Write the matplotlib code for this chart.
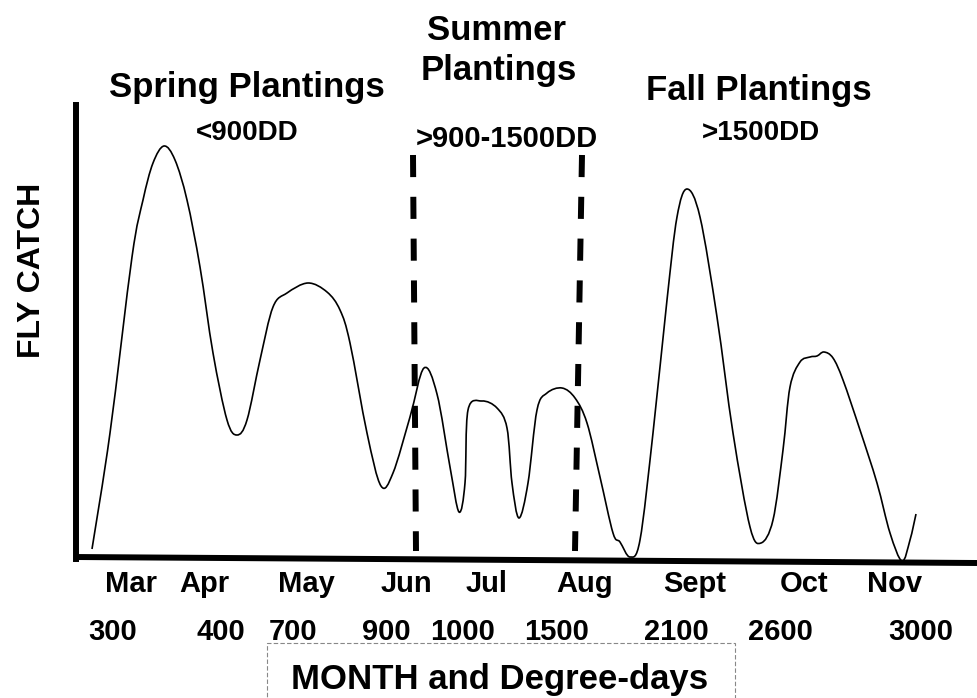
import matplotlib
matplotlib.use("Agg")
import matplotlib.pyplot as plt
from matplotlib.patches import Rectangle, PathPatch
from matplotlib.path import Path

plt.rcParams['font.family'] = ['Liberation Sans', 'DejaVu Sans']

# ---- data (x = season position, y = relative fly catch) ----
season_pos = [16, 34, 56, 67, 77, 88, 99, 111, 124, 137, 151, 161, 171, 184, 197, 211,
              232, 251, 264, 274, 291, 305, 317, 334, 348, 361, 374, 383, 389, 392,
              406, 421, 431, 436, 443, 452, 461, 471, 486, 499, 511, 524, 537, 544,
              554, 564, 577, 591, 601, 611, 624, 641, 657, 674, 685, 697, 707, 714,
              724, 734, 741, 748, 757, 767, 784, 801, 814, 826, 834, 840]
fly_catch = [10, 126, 302, 359, 396, 413, 399, 359, 292, 206, 139, 124, 139, 199, 252, 266,
             276, 267, 249, 216, 126, 73, 86, 142, 191, 165, 92, 47, 76, 149,
             158, 151, 131, 76, 41, 76, 149, 166, 171, 161, 136, 82, 26, 17,
             2, 19, 126, 259, 342, 370, 342, 242, 126, 32, 16, 39, 109, 172,
             197, 202, 203, 207, 201, 179, 129, 76, 26, -2, 19, 45]

boundary_dd = ["900", "1500"]
boundary_top = [337, 506]
boundary_bottom = [340, 499]

months = ["Mar", "Apr", "May", "Jun", "Jul", "Aug", "Sept", "Oct", "Nov"]
month_px = [131, 204, 306, 406, 487, 585, 695, 804, 895]
degree_days = ["300", "400", "700", "900", "1000", "1500", "2100", "2600", "3000"]
dd_px = [113, 221, 293, 386, 463, 557, 676, 780, 921]

W, H = 977, 698
fig = plt.figure(figsize=(W / 100, H / 100), dpi=100)
ax_left, ax_bottom_px, ax_top_px = 76, 559, 105
ax = fig.add_axes([ax_left / W, 1 - ax_bottom_px / H, (W - ax_left) / W, (ax_bottom_px - ax_top_px) / H])
ax.set_xlim(0, W - ax_left)
ax.set_ylim(0, ax_bottom_px - ax_top_px)

# smooth hand-drawn style line through the read points (Catmull-Rom as cubic Bezier)
pts = list(zip(season_pos, fly_catch))
verts = [pts[0]]
codes = [Path.MOVETO]
n = len(pts)
for i in range(n - 1):
    p0 = pts[i - 1] if i > 0 else pts[i]
    p1 = pts[i]
    p2 = pts[i + 1]
    p3 = pts[i + 2] if i + 2 < n else pts[i + 1]
    c1 = (p1[0] + (p2[0] - p0[0]) / 6, p1[1] + (p2[1] - p0[1]) / 6)
    c2 = (p2[0] - (p3[0] - p1[0]) / 6, p2[1] - (p3[1] - p1[1]) / 6)
    verts += [c1, c2, p2]
    codes += [Path.CURVE4] * 3
ax.add_patch(PathPatch(Path(verts, codes), facecolor='none', edgecolor='black',
                       lw=1.2, clip_on=False, joinstyle='round'))

for xt, xb in zip(boundary_top, boundary_bottom):
    ax.plot([xt, xb], [404, 8], color='black', lw=4.3, dashes=(3.7, 3.3),
            solid_capstyle='butt', dash_capstyle='butt')

for s in ['top', 'right', 'bottom']:
    ax.spines[s].set_visible(False)
ax.spines['left'].set_linewidth(4.3)
# slightly tilted hand-drawn baseline
ax.plot([-2, W - ax_left], [2, -4], color='black', lw=4.3, clip_on=False, solid_capstyle='butt')
ax.set_xticks([])
ax.set_yticks([])

def fx(px):
    return px / W

def fy(py):
    return 1 - py / H

bold = dict(fontweight='bold', color='black')

for m, px in zip(months, month_px):
    fig.text(fx(px), fy(592), m, ha='center', va='baseline', fontsize=21, **bold)
for d, px in zip(degree_days, dd_px):
    fig.text(fx(px), fy(640), d, ha='center', va='baseline', fontsize=21, **bold)

fig.text(fx(32), fy(270), "FLY CATCH", rotation=90, ha='center', va='center', fontsize=23, **bold)

fig.text(fx(247), fy(97), "Spring Plantings", ha='center', va='baseline', fontsize=25, **bold)
fig.text(fx(247), fy(140), "<900DD", ha='center', va='baseline', fontsize=20, **bold)
fig.text(fx(497), fy(40), "Summer", ha='center', va='baseline', fontsize=25, **bold)
fig.text(fx(499), fy(80), "Plantings", ha='center', va='baseline', fontsize=25, **bold)
fig.text(fx(507), fy(147), ">900-1500DD", ha='center', va='baseline', fontsize=21, **bold)
fig.text(fx(759), fy(100), "Fall Plantings", ha='center', va='baseline', fontsize=25, **bold)
fig.text(fx(761), fy(140), ">1500DD", ha='center', va='baseline', fontsize=20, **bold)

fig.patches.append(Rectangle((fx(267), fy(720)), fx(735) - fx(267), fy(643) - fy(720),
                             transform=fig.transFigure, fill=False, edgecolor='#888888',
                             lw=0.8, linestyle=(0, (4, 2))))
fig.text(fx(500), fy(689), "MONTH and Degree-days", ha='center', va='baseline', fontsize=25, **bold)

fig.savefig("out.png", dpi=100)
